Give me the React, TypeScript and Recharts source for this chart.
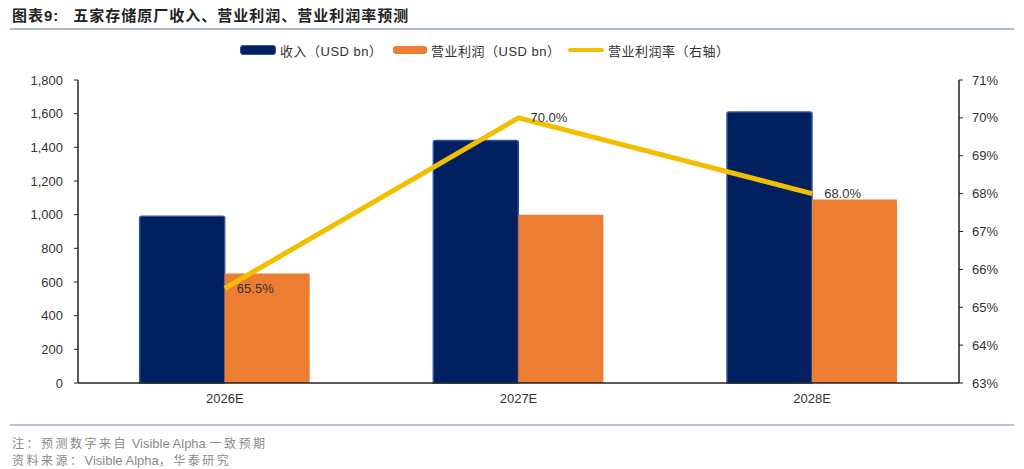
import React from "react";
import { ComposedChart, Bar, Line, XAxis, YAxis, LabelList, Legend } from "recharts";

const categories = ["2026E", "2027E", "2028E"];
const revenue = [990, 1440, 1610];
const operatingProfit = [650, 1000, 1090];
const operatingMargin = [65.5, 70.0, 68.0];
const leftTicks = [0, 200, 400, 600, 800, 1000, 1200, 1400, 1600, 1800];
const rightTicks = [63, 64, 65, 66, 67, 68, 69, 70, 71];

const seriesNames = ["收入（USD bn）", "营业利润（USD bn）", "营业利润率（右轴）"];

const data = categories.map((c, i) => ({
  name: c,
  revenue: revenue[i],
  profit: operatingProfit[i],
  margin: operatingMargin[i],
}));

const FONT = '"Liberation Sans", Arial, "Noto Sans CJK SC", sans-serif';
const NAVY = "#002060";
const ORANGE = "#ED7D31";
const YELLOW = "#F2BE00";

const LegendContent = () => {
  const items = [
    { label: seriesNames[0], color: NAVY, h: 10, border: "#2E5597", x: 240, w: 36 },
    { label: seriesNames[1], color: ORANGE, h: 8, border: ORANGE, x: 393, w: 34 },
    { label: seriesNames[2], color: YELLOW, h: 4, border: YELLOW, x: 568, w: 36 },
  ];
  return (
    <div style={{ position: "relative", width: 1024, height: 20 }}>
      {items.map((it, i) => (
        <div key={i} style={{ position: "absolute", left: it.x, top: 0, display: "flex", alignItems: "center", height: 20 }}>
          <div
            style={{
              width: it.w,
              height: it.h,
              background: it.color,
              borderRadius: 3,
              boxSizing: "border-box",
              border: i === 0 ? `1px solid ${it.border}` : "none",
            }}
          />
          <span style={{ marginLeft: 4, fontSize: 13, color: "#333", fontFamily: FONT, whiteSpace: "nowrap", letterSpacing: 0.5 }}>{it.label}</span>
        </div>
      ))}
    </div>
  );
};

const zh: React.CSSProperties = { letterSpacing: 2.5, fontSize: 12 };
const la: React.CSSProperties = { fontSize: 13 };

export default function App() {
  return (
    <div style={{ position: "absolute", left: 0, top: 0, width: 1024, height: 469, background: "#fff", fontFamily: FONT, overflow: "hidden" }}>
      <div style={{ position: "absolute", left: 12, top: 4, fontSize: 15, fontWeight: "bold", color: "#222", whiteSpace: "nowrap" }}>
        <span style={{ letterSpacing: 1 }}>图表9:</span>
        <span style={{ marginLeft: 14, letterSpacing: 1 }}>五家存储原厂收入、营业利润、营业利润率预测</span>
      </div>
      <div style={{ position: "absolute", left: 10, top: 28, width: 1004, height: 2, background: "#A9B8CB" }} />
      <div style={{ position: "absolute", left: 0, top: 0 }}>
        <ComposedChart
          width={1024}
          height={420}
          data={data}
          margin={{ top: 60, right: 15, bottom: 7, left: 18 }}
          barCategoryGap="21%"
          barGap={0}
        >
          <XAxis
            dataKey="name"
            tickLine={false}
            axisLine={{ stroke: "#222", strokeWidth: 1.5 }}
            tick={{ fill: "#333", fontSize: 13, fontFamily: FONT }}
            height={30}
            tickMargin={5}
          />
          <YAxis
            yAxisId="left"
            width={60}
            domain={[0, 1800]}
            ticks={leftTicks}
            tickFormatter={(v: number) => v.toLocaleString("en-US")}
            axisLine={{ stroke: "#222", strokeWidth: 1.5 }}
            tickLine={{ stroke: "#222" }}
            tickSize={4}
            tickMargin={11}
            tick={{ fill: "#333", fontSize: 13, fontFamily: FONT }}
          />
          <YAxis
            yAxisId="right"
            orientation="right"
            width={50}
            domain={[63, 71]}
            ticks={rightTicks}
            tickFormatter={(v: number) => `${v}%`}
            axisLine={{ stroke: "#222", strokeWidth: 1.5 }}
            tickLine={{ stroke: "#222" }}
            tickSize={4}
            tickMargin={9}
            tick={{ fill: "#333", fontSize: 13, fontFamily: FONT }}
          />
          <Legend verticalAlign="top" wrapperStyle={{ top: 40, left: 0 }} content={() => <LegendContent />} />
          <Bar
            yAxisId="left"
            dataKey="revenue"
            name={seriesNames[0]}
            fill={NAVY}
            stroke="#2E5597"
            strokeWidth={1.5}
            radius={[2, 2, 0, 0]}
            isAnimationActive={false}
          />
          <Bar
            yAxisId="left"
            dataKey="profit"
            name={seriesNames[1]}
            fill={ORANGE}
            isAnimationActive={false}
          />
          <Line
            yAxisId="right"
            dataKey="margin"
            name={seriesNames[2]}
            stroke={YELLOW}
            strokeWidth={5}
            dot={false}
            activeDot={false}
            isAnimationActive={false}
          >
            <LabelList
              dataKey="margin"
              position="right"
              offset={12}
              formatter={(v: number) => `${v.toFixed(1)}%`}
              style={{ fill: "#333", fontSize: 13, fontFamily: FONT }}
            />
          </Line>
        </ComposedChart>
      </div>
      <div style={{ position: "absolute", left: 10, top: 424, width: 1004, height: 2, background: "#B7C3D1" }} />
      <div style={{ position: "absolute", left: 12, top: 434, color: "#8A8A8A", whiteSpace: "nowrap" }}>
        <span style={zh}>注：预测数字来自</span>
        <span style={la}> Visible Alpha </span>
        <span style={zh}>一致预期</span>
      </div>
      <div style={{ position: "absolute", left: 12, top: 451, color: "#8A8A8A", whiteSpace: "nowrap" }}>
        <span style={zh}>资料来源：</span>
        <span style={la}>Visible Alpha</span>
        <span style={zh}>，华泰研究</span>
      </div>
    </div>
  );
}
